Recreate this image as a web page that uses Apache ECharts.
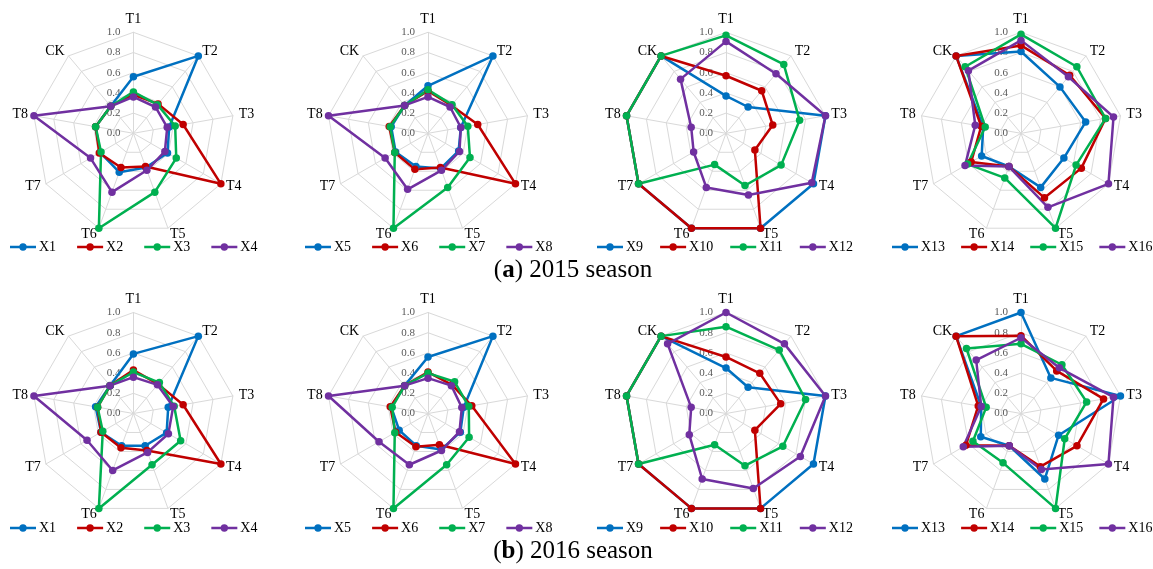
<!DOCTYPE html>
<html>
<head>
<meta charset="utf-8">
<script src="https://cdn.jsdelivr.net/npm/echarts@6/dist/echarts.min.js"></script>
<style>
  html, body { margin: 0; padding: 0; background: #ffffff; }
  #chart { width: 1153px; height: 569px; }
</style>
</head>
<body>
<div id="chart"></div>
<script>
// Radar axes, listed clockwise from the top
const indicators = ['T1', 'T2', 'T3', 'T4', 'T5', 'T6', 'T7', 'T8', 'CK'];
const axisMin = 0;
const axisMax = 1.0;
const tickCount = 5; // 0.0, 0.2, ... 1.0

const seasonCaptions = ['2015 season', '2016 season'];
const seasonLetters = ['a', 'b'];

// 2015 season, values in indicator order T1..T8, CK
const X1_2015 = [0.56, 1.00, 0.36, 0.39, 0.36, 0.41, 0.38, 0.38, 0.35];
const X2_2015 = [0.38, 0.38, 0.50, 1.00, 0.35, 0.36, 0.39, 0.38, 0.35];
const X3_2015 = [0.41, 0.37, 0.42, 0.49, 0.62, 1.00, 0.37, 0.38, 0.35];
const X4_2015 = [0.36, 0.34, 0.34, 0.36, 0.39, 0.62, 0.49, 1.00, 0.35];
const X5_2015 = [0.47, 1.00, 0.33, 0.35, 0.37, 0.35, 0.37, 0.37, 0.36];
const X6_2015 = [0.42, 0.36, 0.50, 1.00, 0.36, 0.38, 0.38, 0.39, 0.36];
const X7_2015 = [0.43, 0.37, 0.40, 0.48, 0.57, 1.00, 0.38, 0.38, 0.36];
const X8_2015 = [0.36, 0.34, 0.33, 0.36, 0.39, 0.59, 0.49, 1.00, 0.36];
const X9_2015 = [0.37, 0.34, 1.00, 1.00, 1.00, 1.00, 1.00, 1.00, 1.00];
const X10_2015 = [0.57, 0.55, 0.47, 0.33, 1.00, 1.00, 1.00, 1.00, 1.00];
const X11_2015 = [0.97, 0.89, 0.74, 0.63, 0.55, 0.33, 1.00, 1.00, 1.00];
const X12_2015 = [0.91, 0.77, 1.00, 0.98, 0.65, 0.57, 0.37, 0.35, 0.70];
const X13_2015 = [0.81, 0.60, 0.65, 0.49, 0.57, 0.35, 0.45, 0.38, 1.00];
const X14_2015 = [0.87, 0.75, 0.85, 0.69, 0.68, 0.35, 0.57, 0.40, 1.00];
const X15_2015 = [0.98, 0.86, 0.85, 0.63, 1.00, 0.47, 0.61, 0.36, 0.86];
const X16_2015 = [0.92, 0.73, 0.93, 1.00, 0.78, 0.35, 0.64, 0.46, 0.81];

// 2016 season
const X1_2016 = [0.59, 1.00, 0.35, 0.38, 0.34, 0.34, 0.37, 0.38, 0.36];
const X2_2016 = [0.43, 0.38, 0.50, 1.00, 0.39, 0.36, 0.37, 0.36, 0.36];
const X3_2016 = [0.41, 0.40, 0.41, 0.54, 0.54, 1.00, 0.35, 0.36, 0.36];
const X4_2016 = [0.36, 0.37, 0.40, 0.40, 0.41, 0.60, 0.53, 1.00, 0.36];
const X5_2016 = [0.56, 1.00, 0.36, 0.37, 0.38, 0.34, 0.33, 0.37, 0.36];
const X6_2016 = [0.41, 0.37, 0.44, 1.00, 0.33, 0.35, 0.37, 0.38, 0.36];
const X7_2016 = [0.40, 0.41, 0.41, 0.47, 0.54, 1.00, 0.38, 0.36, 0.36];
const X8_2016 = [0.35, 0.36, 0.34, 0.36, 0.39, 0.54, 0.56, 1.00, 0.36];
const X9_2016 = [0.45, 0.34, 1.00, 1.00, 1.00, 1.00, 1.00, 1.00, 1.00];
const X10_2016 = [0.56, 0.52, 0.55, 0.33, 1.00, 1.00, 1.00, 1.00, 1.00];
const X11_2016 = [0.86, 0.82, 0.80, 0.65, 0.55, 0.33, 1.00, 1.00, 1.00];
const X12_2016 = [1.00, 0.90, 1.00, 0.85, 0.79, 0.69, 0.42, 0.35, 0.90];
const X13_2016 = [1.00, 0.46, 1.00, 0.43, 0.69, 0.34, 0.46, 0.40, 1.00];
const X14_2016 = [0.77, 0.55, 0.83, 0.64, 0.56, 0.34, 0.63, 0.43, 1.00];
const X15_2016 = [0.69, 0.63, 0.66, 0.50, 1.00, 0.52, 0.55, 0.35, 0.84];
const X16_2016 = [0.75, 0.59, 0.93, 1.00, 0.59, 0.34, 0.66, 0.40, 0.69];

// Group names shown in each panel (four per panel)
const panelNames = [
  ['X1', 'X2', 'X3', 'X4'],
  ['X5', 'X6', 'X7', 'X8'],
  ['X9', 'X10', 'X11', 'X12'],
  ['X13', 'X14', 'X15', 'X16']
];
const values2015 = [
  [X1_2015, X2_2015, X3_2015, X4_2015],
  [X5_2015, X6_2015, X7_2015, X8_2015],
  [X9_2015, X10_2015, X11_2015, X12_2015],
  [X13_2015, X14_2015, X15_2015, X16_2015]
];
const values2016 = [
  [X1_2016, X2_2016, X3_2016, X4_2016],
  [X5_2016, X6_2016, X7_2016, X8_2016],
  [X9_2016, X10_2016, X11_2016, X12_2016],
  [X13_2016, X14_2016, X15_2016, X16_2016]
];
const seasonValues = [values2015, values2016];

// ---- styling & layout ----
const lineColors = ['#0070C0', '#C00000', '#00B050', '#7030A0'];
const serif = 'Liberation Serif';
const colCenters = [133.4, 428, 726, 1021];
const rowCenters = [133.3, 413.5];
const radarRadius = 101;
const legendLeft = [10, 305, 597, 892];
const legendGap = [21, 21, 17, 16];
const legendTop = [240, 521];
const captionTop = [258, 539];

// ECharts lays radar axes out counter-clockwise, so walk the list backwards
const displayOrder = [0, 8, 7, 6, 5, 4, 3, 2, 1];

// legend glyph: short line with a dot in the middle
const legendIcon = 'path://M0,2.45H26V4.95H0Z M16.7,3.7A3.7,3.7,0,1,1,9.3,3.7A3.7,3.7,0,1,1,16.7,3.7Z';

const radars = [];
const series = [];
const legends = [];
const titles = [];

seasonValues.forEach(function (panels, row) {
  panels.forEach(function (groupValues, col) {
    const radarIndex = radars.length;
    radars.push({
      center: [colCenters[col], rowCenters[row]],
      radius: radarRadius,
      startAngle: 90,
      splitNumber: tickCount,
      shape: 'polygon',
      nameGap: 6,
      axisName: { color: '#000000', fontFamily: serif, fontSize: 14 },
      indicator: displayOrder.map(function (i) {
        const ind = { name: indicators[i], min: axisMin, max: axisMax };
        if (i === 0) {
          ind.axisLabel = {
            show: true,
            margin: 13,
            color: '#595959',
            fontFamily: serif,
            fontSize: 11,
            formatter: function (v) { return Number(v).toFixed(1); }
          };
        }
        return ind;
      }),
      splitLine: { lineStyle: { color: '#d9d9d9', width: 1 } },
      splitArea: { show: false },
      axisLine: { lineStyle: { color: '#d9d9d9', width: 1 } },
      axisTick: { show: false },
      axisLabel: { show: false }
    });

    groupValues.forEach(function (vals, k) {
      const name = panelNames[col][k];
      series.push({
        type: 'radar',
        radarIndex: radarIndex,
        name: name,
        color: lineColors[k],
        symbol: 'circle',
        symbolSize: 7.5,
        silent: true,
        lineStyle: { color: lineColors[k], width: 2.5 },
        itemStyle: { color: lineColors[k], borderWidth: 0 },
        data: [{
          name: name,
          value: displayOrder.map(function (i) { return vals[i]; })
        }]
      });
    });

    legends.push({
      data: panelNames[col],
      left: legendLeft[col],
      top: legendTop[row],
      orient: 'horizontal',
      itemWidth: 26,
      itemHeight: 7.4,
      itemGap: legendGap[col],
      icon: legendIcon,
      padding: 0,
      selectedMode: false,
      itemStyle: { borderWidth: 0 },
      textStyle: { color: '#000000', fontFamily: serif, fontSize: 14, padding: [0, 0, 0, -2] }
    });
  });

  titles.push({
    text: '({b|' + seasonLetters[row] + '}) ' + seasonCaptions[row],
    left: 573,
    textAlign: 'center',
    top: captionTop[row],
    padding: 0,
    textStyle: {
      color: '#000000',
      fontFamily: serif,
      fontSize: 25,
      fontWeight: 'normal',
      rich: {
        b: { fontFamily: serif, fontSize: 25, fontWeight: 'bold', color: '#000000' }
      }
    }
  });
});

const chart = echarts.init(document.getElementById('chart'), null, { renderer: 'canvas' });
chart.setOption({
  backgroundColor: '#ffffff',
  animation: false,
  title: titles,
  radar: radars,
  legend: legends,
  series: series
});
</script>
</body>
</html>
